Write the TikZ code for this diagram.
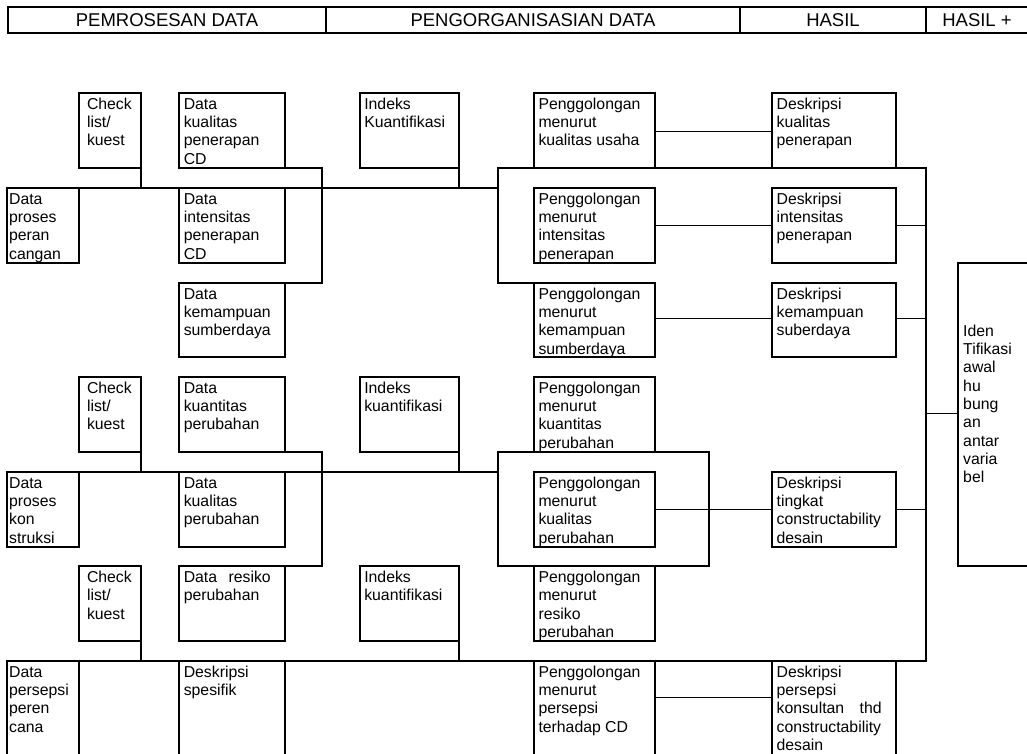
\documentclass[tikz,border=0pt]{standalone}
\usepackage{fontspec}
\setmainfont{Liberation Sans}
\newcommand\mybox[5]{\node[boxst, minimum width={#4-#2}, minimum height={#5-#3}] (#1) at ({(#2+#4)/2},{(#3+#5)/2}) {};}
\newcommand\btxt[3]{\node[txt] (#1t) at ([xshift=#2pt,yshift=-4.4pt]#1.north west) {\rule{0pt}{12pt}#3};}
\begin{document}
\begin{tikzpicture}[x=1pt,y=-1pt,
  thk/.style={line width=1.9pt},
  thn/.style={line width=0.75pt},
  boxst/.style={draw, thk, inner sep=0pt, outer sep=0pt},
  txt/.style={inner sep=0pt, anchor=north west, align=left, font=\fontsize{15.8}{18.3}\selectfont},
  hd/.style={draw, thk, inner sep=0pt, outer sep=0pt, font=\fontsize{18.5}{22}\selectfont}]
\useasboundingbox (0,0) rectangle (1027,754);
\clip (0,0) rectangle (1027,754);
% header
\node[hd, minimum width=318, minimum height=26] (h1) at (167,20.3) {PEMROSESAN DATA};
\node[hd, minimum width=414, minimum height=26] (h2) at (533,20.3) {PENGORGANISASIAN DATA};
\node[hd, minimum width=186, minimum height=26] (h3) at (833,20.3) {HASIL};
\node[hd, minimum width=102, minimum height=26] (h4) at (977,20.3) {HASIL +};
% row 1
\mybox{chk1}{79}{92.7}{141}{167.7}\btxt{chk1}{7.8}{Check\\list/\\kuest}
\mybox{dk1}{179}{92.7}{285}{167.7}\btxt{dk1}{4.6}{Data\\kualitas\\penerapan\\CD}
\mybox{ind1}{359.7}{92.7}{459.3}{167.7}\btxt{ind1}{4.4}{Indeks\\Kuantifikasi}
\mybox{pk1}{534}{92.7}{655}{167.7}\btxt{pk1}{4.3}{Penggolongan\\menurut\\kualitas usaha}
\mybox{dsk1}{772}{92.7}{896}{167.7}\btxt{dsk1}{4.4}{Deskripsi\\kualitas\\penerapan}
% row 2
\mybox{dp2}{7.3}{187.7}{79}{262.7}\btxt{dp2}{1.6}{Data\\proses\\peran\\cangan}
\mybox{dk2}{179}{187.7}{285}{262.7}\btxt{dk2}{4.6}{Data\\intensitas\\penerapan\\CD}
\mybox{pk2}{534}{187.7}{655}{262.7}\btxt{pk2}{4.3}{Penggolongan\\menurut\\intensitas\\penerapan}
\mybox{dsk2}{772}{187.7}{896}{262.7}\btxt{dsk2}{4.4}{Deskripsi\\intensitas\\penerapan}
% row 3
\mybox{dk3}{179}{282.7}{285}{357.2}\btxt{dk3}{4.6}{Data\\kemampuan\\sumberdaya}
\mybox{pk3}{534}{282.7}{655}{357.2}\btxt{pk3}{4.3}{Penggolongan\\menurut\\kemampuan\\sumberdaya}
\mybox{dsk3}{772}{282.7}{896}{357.2}\btxt{dsk3}{4.4}{Deskripsi\\kemampuan\\suberdaya}
% big box
\mybox{iden}{958}{262.7}{1060}{565.7}\node[txt] (ident) at ([xshift=5pt,yshift=-61.3pt]iden.north west) {\rule{0pt}{12pt}Iden\\Tifikasi\\awal\\hu\\bung\\an\\antar\\varia\\bel};
% row 4
\mybox{chk4}{79}{376.7}{141}{451.7}\btxt{chk4}{7.8}{Check\\list/\\kuest}
\mybox{dk4}{179}{376.7}{285}{451.7}\btxt{dk4}{4.6}{Data\\kuantitas\\perubahan}
\mybox{ind4}{359.7}{376.7}{459.3}{451.7}\btxt{ind4}{4.4}{Indeks\\kuantifikasi}
\mybox{pk4}{534}{376.7}{655}{451.7}\btxt{pk4}{4.3}{Penggolongan\\menurut\\kuantitas\\perubahan}
% group rectangle
\mybox{grp}{498.3}{451.7}{709.3}{566}
% row 5
\mybox{dp5}{7.3}{471.7}{79}{546.7}\btxt{dp5}{1.6}{Data\\proses\\kon\\struksi}
\mybox{dk5}{179}{471.7}{285}{546.7}\btxt{dk5}{4.6}{Data\\kualitas\\perubahan}
\mybox{pk5}{534}{471.7}{655}{546.7}\btxt{pk5}{4.3}{Penggolongan\\menurut\\kualitas\\perubahan}
\mybox{dsk5}{772}{471.7}{896}{546.7}\btxt{dsk5}{4.4}{Deskripsi\\tingkat\\constructability\\desain}
% row 6
\mybox{chk6}{79}{566}{141}{640.7}\btxt{chk6}{7.8}{Check\\list/\\kuest}
\mybox{dk6}{179}{566}{285}{640.7}\btxt{dk6}{4.6}{\makebox[87pt][s]{Data resiko}\\perubahan}
\mybox{ind6}{359.7}{566}{459.3}{640.7}\btxt{ind6}{4.4}{Indeks\\kuantifikasi}
\mybox{pk6}{534}{566}{655}{640.7}\btxt{pk6}{4.3}{Penggolongan\\menurut\\resiko\\perubahan}
% row 7
\mybox{dp7}{7.3}{660.7}{79}{790}\btxt{dp7}{1.6}{Data\\persepsi\\peren\\cana}
\mybox{dk7}{179}{660.7}{285}{790}\btxt{dk7}{4.6}{Deskripsi\\spesifik}
\mybox{pk7}{534}{660.7}{655}{790}\btxt{pk7}{4.3}{Penggolongan\\menurut\\persepsi\\terhadap CD}
\mybox{dsk7}{772}{660.7}{896}{790}\btxt{dsk7}{4.4}{Deskripsi\\persepsi\\\makebox[105pt][s]{konsultan thd}\\constructability\\desain}
% coordinates
\coordinate (bx1) at (498.3,167.7);
\coordinate (bx2) at (926,167.7);
\coordinate (bx3) at (926,660.7);
\coordinate (bl1) at (498.3,187.7);
% thick connectors, upper block
\draw[thk] (dp2.north west) -- (bl1);
\draw[thk] (chk1.south east) -- (chk1.south east |- dp2.north);
\draw[thk] (ind1.south east) -- (ind1.south east |- dp2.north);
\draw[thk] (dk1.south east) -- ++(37,0) |- (dk3.north east);
\draw[thk] (pk3.north west) -| (bx1) -- (bx2) -- (bx3) -- (dp7.north west);
% middle block
\draw[thk] (dp5.north west) -- (dp5.north west -| grp.west);
\draw[thk] (chk4.south east) -- (chk4.south east |- dp5.north);
\draw[thk] (ind4.south east) -- (ind4.south east |- dp5.north);
\draw[thk] (dk4.south east) -- ++(37,0) |- (dk6.north east);
% lower block
\draw[thk] (chk6.south east) -- (chk6.south east |- dp7.north);
\draw[thk] (ind6.south east) -- (ind6.south east |- dp7.north);
% thin connectors
\draw[thn] ([yshift=-0.8pt]pk1.east) -- ([yshift=-0.8pt]dsk1.west);
\draw[thn] (pk2.east) -- (dsk2.west);
\draw[thn] (dsk2.east) -- (dsk2.east -| bx2);
\draw[thn] ([yshift=1.5pt]pk3.east) -- ([yshift=1.5pt]dsk3.west);
\draw[thn] ([yshift=1.5pt]dsk3.east) -- ([yshift=1.5pt]dsk3.east -| bx2);
\draw[thn] (pk5.east) -- (dsk5.west);
\draw[thn] (dsk5.east) -- (dsk5.east -| bx2);
\draw[thn] ([yshift=-36.6pt]pk7.north east) -- ([yshift=-36.6pt]dsk7.north west);
\draw[thn] ([yshift=1.2pt]iden.west -| bx2) -- ([yshift=1.2pt]iden.west);
\end{tikzpicture}
\end{document}
